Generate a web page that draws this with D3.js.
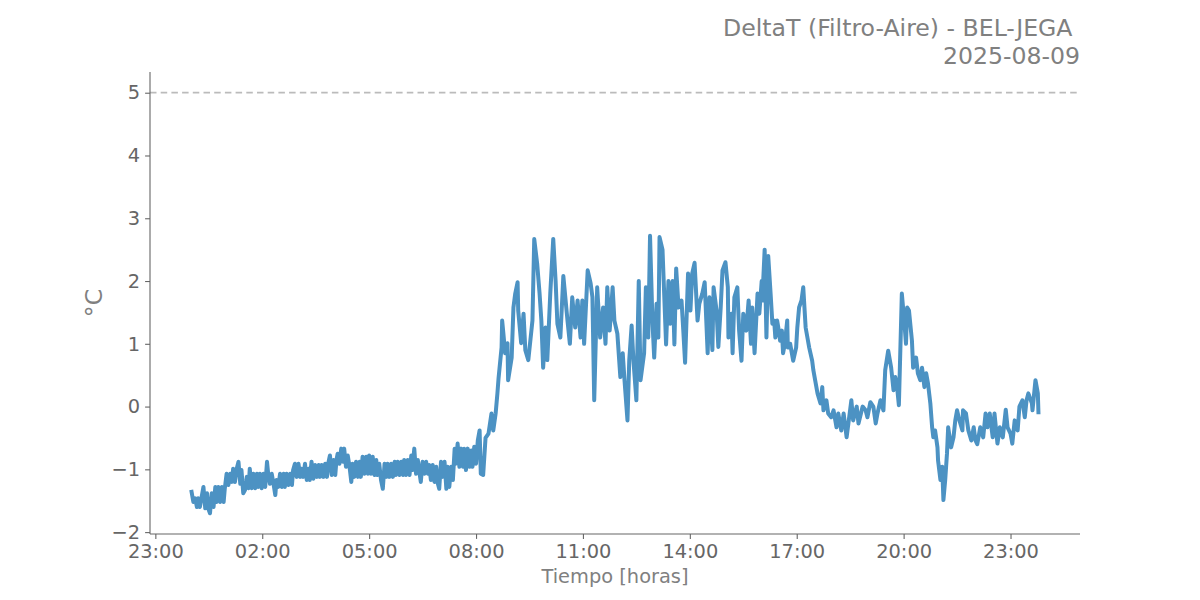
<!DOCTYPE html>
<html>
<head>
<meta charset="utf-8">
<script src="https://cdn.jsdelivr.net/npm/d3@7"></script>
<style>
  html, body { margin: 0; padding: 0; background: #fff; }
  svg { display: block; font-family: "DejaVu Sans", sans-serif; }
</style>
</head>
<body>
<svg id="chart" width="1200" height="600"></svg>
<script>
// ---- data (minutes since 2025-08-09 00:00, DeltaT in °C) ----
const timeMin = [
  1,4,7,10,12,15,18,21,24,27,29,32,35,38,41,43,46,49,52,55,57,60,63,66,69,71,74,77,80,83,85,88,91,94,97,99,102,105,108,111,113,116,119,122,125,128,130,133,136,139,142,144,147,150,153,156,158,161,164,167,170,172,175,178,181,184,186,189,192,195,198,200,203,206,209,212,215,217,220,223,226,229,231,234,237,240,243,245,
  247,250,253,256,258,261,264,267,270,272,275,278,281,284,286,289,292,295,298,300,303,306,309,312,314,317,320,323,326,329,331,334,337,340,343,345,348,351,354,357,359,362,365,368,371,373,376,379,382,385,387,390,393,396,399,401,404,407,410,413,415,418,421,424,427,430,432,435,438,441,444,446,449,452,455,458,460,463,466,469,472,474,477,480,483,486,488,
  492,496,501,506,509,513,516,518,523,524,526,529,533,534,540,543,546,550,551,556,560,563,568,575,578,583,587,590,593,597,600,605,610,614,617,622,627,634,638,642,647,651,656,659,662,668,673,676,679,684,689,694,698,701,705,710,713,718,
  723,727,730,735,738,742,745,750,754,757,763,766,770,773,777,780,784,787,789,794,796,800,804,807,811,814,817,821,826,829,832,837,841,844,848,853,856,861,865,870,873,878,880,885,888,892,895,900,904,905,910,912,915,920,923,927,930,935,939,943,945,949,954,957,961,962,966,969,972,976,979,982,984,987,989,992,995,997,1000,1004,1005,1009,1014,1019,1021,1024,1028,1031,1035,1038,1041,1046,1048,1051,1055,1060,1063,1065,1070,1073,1078,1082,1087,1090,1095,1099,1104,1107,1112,1115,1121,1124,1131,1136,1139,1144,1149,1153,1156,1161,1166,1169,1174,1179,1183,1186,1189,1192,1197,1201,1204,1206,1209,1214,1216,1221,1224,1228,1231,1235,1238,1241,1245,1248,1250,1253,1257,1258,1262,1265,1267,1270,1273,1275,1280,1284,1287,1290,1294,1299,1300,1305,1309,1314,1318,1321,1324,1329,1334,1338,1341,1345,1350,1353,1358,1362,1367,1372,1375,1380,1383,1387,1392,1395,1400,1404,1407,1410,1416,1417,1422,1426,1427
];
const deltaT = [
  -1.36,-1.52,-1.46,-1.60,-1.46,-1.60,-1.44,-1.28,-1.62,-1.38,-1.62,-1.70,-1.38,-1.60,-1.28,-1.52,-1.28,-1.52,-1.28,-1.52,-1.30,-1.07,-1.25,-1.07,-1.20,-0.99,-1.20,-0.99,-0.88,-1.23,-1.01,-1.38,-1.33,-1.12,-1.30,-0.99,-1.30,-1.07,-1.30,-1.07,-1.28,-1.07,-1.30,-1.07,-1.28,-0.88,-1.07,-1.23,-1.07,-1.23,-1.41,-1.17,-1.28,-1.07,-1.28,-1.07,-1.28,-1.07,-1.25,-1.07,-1.25,-1.01,-0.91,-1.12,-0.91,-1.12,-0.99,-1.12,-0.91,-1.17,-0.99,-1.17,-0.88,-1.15,-0.93,-1.12,-0.93,-1.12,-0.93,-1.12,-0.91,-1.12,-0.91,-0.78,-1.09,-0.85,-1.09,-0.85,
  -0.75,-0.91,-0.67,-0.88,-0.67,-0.96,-0.78,-0.96,-1.20,-0.91,-1.12,-0.88,-1.12,-0.88,-1.12,-0.80,-1.07,-0.80,-1.07,-0.78,-1.07,-0.80,-1.09,-0.85,-1.09,-0.91,-1.17,-1.31,-0.91,-1.12,-0.91,-1.12,-0.91,-1.12,-0.88,-1.09,-0.88,-1.09,-0.88,-1.09,-0.85,-1.09,-0.85,-1.09,-0.78,-1.01,-0.67,-1.07,-0.85,-1.07,-1.20,-0.88,-1.07,-0.88,-1.07,-0.93,-1.17,-0.93,-1.20,-0.96,-1.20,-1.31,-0.88,-1.12,-0.88,-1.31,-0.96,-1.28,-0.96,-1.17,-0.67,-0.91,-0.59,-0.96,-0.67,-0.96,-0.67,-1.01,-0.67,-0.96,-0.70,-0.96,-0.64,-0.91,-0.54,-0.38,-1.07,
  -1.09,-0.5,-0.43,-0.11,-0.38,-0.11,0.21,0.46,0.94,1.37,1.17,0.85,1.01,0.42,0.78,1.58,1.8,1.98,1.53,1.01,1.48,0.9,0.74,1.37,2.67,2.27,1.8,1.37,0.62,1.26,0.74,1.8,2.67,2.0,1.32,1.1,2.08,1.37,1.0,1.74,1.26,1.69,1.1,1.69,1.0,2.17,1.96,1.74,0.1,1.9,1.1,1.58,1.0,1.9,1.21,1.9,1.37,1.16,
  0.47,0.85,0.42,-0.22,0.74,1.29,0.74,0.1,2.0,0.42,0.85,1.9,1.1,2.72,1.37,0.78,1.64,1.1,2.7,2.5,2.0,0.99,2.0,1.32,2.0,0.99,2.2,1.58,1.69,1.21,0.7,2.12,1.53,2.12,2.29,1.37,1.64,1.8,1.98,0.85,1.74,0.9,1.9,1.53,0.95,1.58,2.17,2.3,1.9,1.1,1.48,0.85,1.74,1.9,1.21,0.73,1.48,1.21,1.69,1.0,1.58,0.85,1.8,1.48,2.0,1.69,2.5,1.1,2.4,1.8,1.32,1.37,1.1,1.37,1.26,1.05,1.21,0.85,1.0,1.37,0.94,1.0,0.73,0.94,1.26,1.58,1.69,1.9,1.26,1.1,0.94,0.73,0.58,0.42,0.21,0.05,0.31,-0.06,0.1,-0.11,-0.17,-0.06,-0.33,-0.11,-0.38,-0.11,-0.49,-0.27,0.1,-0.22,0.0,-0.27,0.0,-0.06,-0.17,0.07,0.0,-0.27,-0.11,0.1,-0.06,0.58,0.89,0.62,0.26,0.47,0.31,0.02,1.8,1.37,1.0,1.58,1.53,1.05,0.62,0.78,0.53,0.42,0.62,0.31,0.53,0.37,0.05,-0.33,-0.49,-0.38,-0.65,-0.86,-1.17,-0.96,-1.49,-1.17,-0.75,-0.33,-0.65,-0.49,-0.22,-0.06,-0.22,-0.38,-0.06,-0.11,-0.38,-0.54,-0.33,-0.54,-0.6,-0.33,-0.49,-0.11,-0.33,-0.11,-0.49,-0.11,-0.59,-0.33,-0.49,-0.05,-0.33,-0.43,-0.59,-0.22,-0.38,0.0,0.1,-0.17,0.1,0.21,0.05,-0.06,0.42,0.21,-0.09
];
const threshold = 5;
const xTickMinutes = [-60, 120, 300, 480, 660, 840, 1020, 1200, 1380];
const yTicks = [-2, -1, 0, 1, 2, 3, 4, 5];
const titleLines = ["DeltaT (Filtro-Aire) - BEL-JEGA ", "2025-08-09"];
const xLabel = "Tiempo [horas]";
const yLabel = "°C";

// ---- layout ----
const W = 1200, H = 600;
const m = { left: 150, right: 120, top: 72, bottom: 66 };
const iw = W - m.left - m.right, ih = H - m.top - m.bottom;
const base = new Date(2025, 7, 9, 0, 0, 0);
const toDate = mn => new Date(base.getTime() + mn * 60000);

const n = Math.min(timeMin.length, deltaT.length);
const data = timeMin.slice(0, n).map((t, i) => ({ t: toDate(t), v: deltaT[i] }));

const x = d3.scaleTime().domain([toDate(-69), toDate(1497)]).range([0, iw]);
const y = d3.scaleLinear().domain([-2.03, 5.33]).range([ih, 0]);

const svg = d3.select("#chart");
const g = svg.append("g").attr("transform", `translate(${m.left},${m.top})`);

const tickColor = "#666666";
const labelColor = "#808080";
const fs = 19.4;

// threshold line
g.append("line")
  .attr("x1", 0).attr("x2", iw)
  .attr("y1", y(threshold)).attr("y2", y(threshold))
  .attr("stroke", "#bbbbbb").attr("stroke-width", 1.8)
  .attr("stroke-dasharray", "6.5,4.2");

// data line
g.append("path")
  .datum(data)
  .attr("fill", "none")
  .attr("stroke", "rgb(76,146,195)")
  .attr("stroke-width", 4)
  .attr("stroke-linejoin", "round")
  .attr("stroke-linecap", "square")
  .attr("d", d3.line().x(d => x(d.t)).y(d => y(d.v)));

// axes
const fmt = d3.timeFormat("%H:%M");
const xAxis = d3.axisBottom(x).tickValues(xTickMinutes.map(toDate)).tickFormat(fmt)
  .tickSize(4.9).tickPadding(4.9);
const yAxis = d3.axisLeft(y).tickValues(yTicks).tickFormat(d3.format("d"))
  .tickSize(4.9).tickPadding(4.9);

const gx = g.append("g").attr("transform", `translate(0,${ih})`).call(xAxis);
const gy = g.append("g").call(yAxis);

[gx, gy].forEach(ax => {
  ax.select(".domain").attr("stroke", tickColor).attr("stroke-width", 1.1);
  ax.selectAll(".tick line").attr("stroke", tickColor).attr("stroke-width", 1.1);
  ax.selectAll(".tick text").attr("fill", tickColor)
    .style("font-size", fs + "px").style("font-family", "DejaVu Sans");
});
gx.select(".domain").attr("d", `M0,0H${iw}`);
gy.select(".domain").attr("d", `M0,${ih}V0`);
gy.selectAll(".tick text").text(d => d < 0 ? "\u2212" + Math.abs(d) : d);

// titles
svg.append("text")
  .attr("x", 1080).attr("y", 36)
  .attr("text-anchor", "end")
  .style("white-space", "pre")
  .attr("fill", labelColor).style("font-size", "23.6px")
  .text(titleLines[0]);
svg.append("text")
  .attr("x", 1080).attr("y", 64)
  .attr("text-anchor", "end")
  .attr("fill", labelColor).style("font-size", "23.6px")
  .text(titleLines[1]);

// axis labels
svg.append("text")
  .attr("x", m.left + iw / 2).attr("y", 583)
  .attr("text-anchor", "middle")
  .attr("fill", labelColor).style("font-size", fs + "px")
  .text(xLabel);
svg.append("text")
  .attr("transform", `translate(102,${m.top + ih / 2}) rotate(-90)`)
  .attr("text-anchor", "middle")
  .attr("fill", labelColor).style("font-size", "23.6px")
  .text(yLabel);
</script>
</body>
</html>
